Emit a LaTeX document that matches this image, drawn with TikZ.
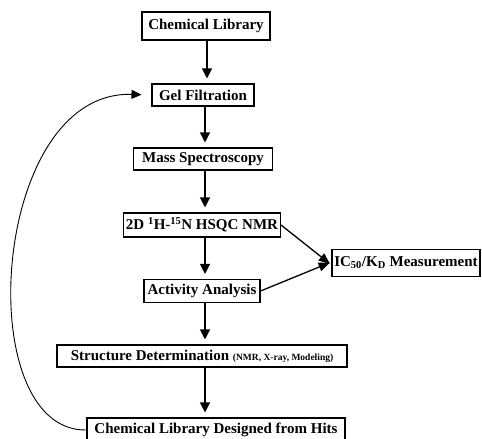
\documentclass[tikz,border=0pt]{standalone}
\usepackage{fontspec}
\setmainfont{Liberation Serif}
\usepackage{tikz}
\usetikzlibrary{positioning,arrows.meta}
\tikzset{
    stage/.style={rectangle, draw, line width=1.1pt, inner sep=1pt, font=\fontsize{15}{17}\selectfont\bfseries},
    flow/.style={-{Triangle[width=10pt,length=10pt]}, line width=1.2pt, shorten >=5pt},
    side flow/.style={-{Triangle[width=9pt,length=11pt]}, line width=1.3pt, shorten >=2pt},
    loop flow/.style={-{Triangle[width=9pt,length=10pt]}, line width=0.9pt, shorten >=10pt}
}

\begin{document}
\begin{tikzpicture}[x=1pt, y=-1pt]
    \useasboundingbox (0,0) rectangle (482,439);

    % Screening stages - one column
    \node[stage, minimum width=128pt, minimum height=28pt] (lib) at (206,26) {Chemical Library};
    \node[stage, minimum width=102pt, minimum height=22pt] (gel) at (203,95) {Gel Filtration};
    \node[stage, minimum width=139pt, minimum height=22pt] (mass) at (203,159) {Mass Spectroscopy};
    \node[stage, minimum width=157pt, minimum height=24pt] (hsqc) at (202,225) {2D \textsuperscript{1}H-\textsuperscript{15}N HSQC NMR};
    \node[stage, minimum width=116pt, minimum height=23pt] (act) at (202,291) {Activity Analysis};
    \node[stage, minimum width=290pt, minimum height=22pt] (struct) at (202,356)
        {Structure Determination {\fontsize{9.5}{11}\selectfont (NMR, X-ray, Modeling)}};
    \node[stage, minimum width=258pt, minimum height=24pt] (design) at (216,430) {Chemical Library Designed from Hits};

    % Measurement box - right side
    \node[stage, minimum width=148pt, minimum height=27pt] (ic) at (406,263)
        {IC\textsubscript{50}/K\textsubscript{D} Measurement};

    % Vertical flow - straight down at one x
    \coordinate (col) at (205,0);
    \draw[flow] (lib.south -| 207,0) -- (gel.north -| 207,0);
    \draw[flow] (gel.south -| col) -- (mass.north -| col);
    \draw[flow] (mass.south -| col) -- (hsqc.north -| col);
    \draw[flow] (hsqc.south -| col) -- (act.north -| col);
    \draw[flow] (act.south -| col) -- (struct.north -| col);
    \draw[flow] (struct.south -| col) -- (design.north -| col);

    % Side connections to measurement
    \draw[side flow] (hsqc.east) -- ([yshift=-2pt]ic.west);
    \draw[side flow] (act.east) -- ([yshift=1pt]ic.west);

    % Feedback loop
    \draw[loop flow] (design.west) .. controls (-30,432) and (-10,90) .. (gel.west);
\end{tikzpicture}
\end{document}
